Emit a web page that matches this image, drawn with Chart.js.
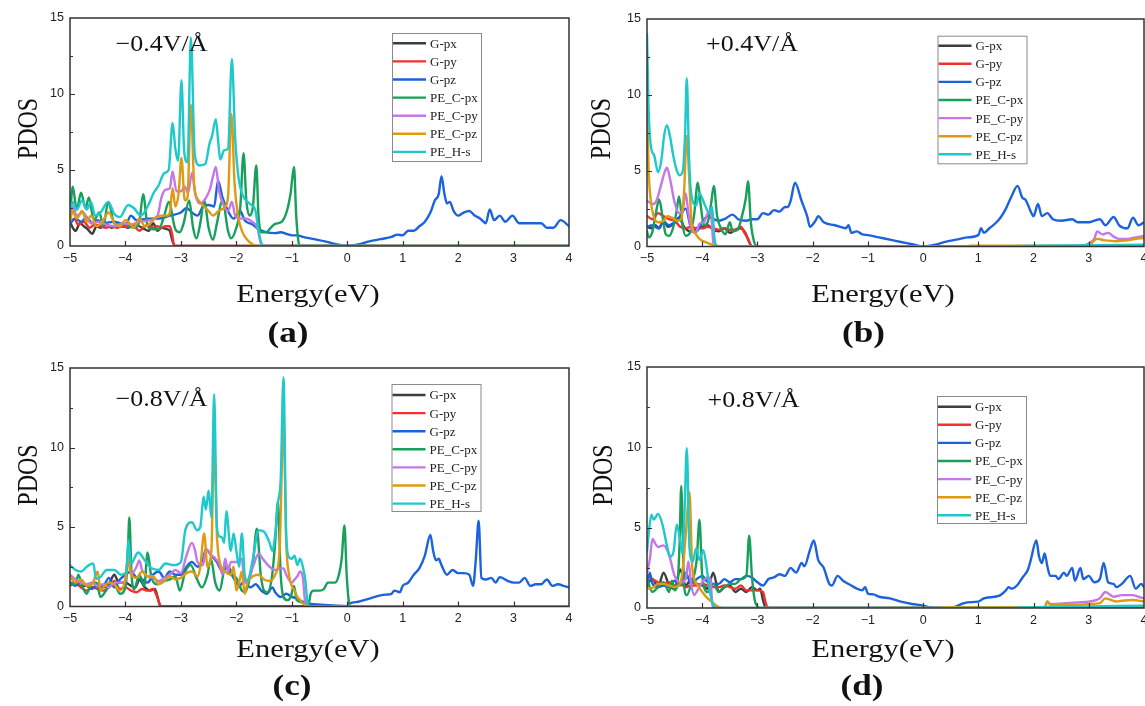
<!DOCTYPE html>
<html>
<head>
<meta charset="utf-8">
<script src="https://cdn.jsdelivr.net/npm/chart.js@4.4.1/dist/chart.umd.min.js"></script>
<style>
  html, body { margin: 0; padding: 0; background: #ffffff; width: 1145px; height: 706px; overflow: hidden; }
  canvas { position: absolute; left: 0; top: 0; }
</style>
</head>
<body>
<canvas id="pa" width="1145" height="706"></canvas>
<canvas id="pb" width="1145" height="706"></canvas>
<canvas id="pc" width="1145" height="706"></canvas>
<canvas id="pd" width="1145" height="706"></canvas>
<script>
// ---- labels ----
const seriesNames = ['G-px', 'G-py', 'G-pz', 'PE_C-px', 'PE_C-py', 'PE_C-pz', 'PE_H-s'];
const fieldLabels = ['\u22120.4V/\u00C5', '+0.4V/\u00C5', '\u22120.8V/\u00C5', '+0.8V/\u00C5'];
const panelTags = ['(a)', '(b)', '(c)', '(d)'];
const xTitle = 'Energy(eV)';
const yTitle = 'PDOS';
const energyRange = [-5, 4];
const pdosRange = [0, 15];

// ---- (a) field -0.4 V/A : [energy, PDOS] ----
const a_Gpx = [[-5,1.6],[-4.95,1.2],[-4.9,1.0],[-4.82,1.5],[-4.75,1.3],[-4.68,1.1],[-4.6,0.8],[-4.52,1.3],[-4.45,1.2],[-4.35,1.4],[-4.25,1.2],[-4.15,1.3],[-4.05,1.3],[-3.95,1.2],[-3.85,1.4],[-3.75,1.3],[-3.65,1.1],[-3.58,1.0],[-3.5,1.5],[-3.42,1.0],[-3.35,1.2],[-3.25,1.1],[-3.2,1.0],[-3.15,0.3],[-3.1,0],[4,0]];
const a_Gpy = [[-5,1.5],[-4.92,1.8],[-4.85,1.4],[-4.75,1.6],[-4.65,1.2],[-4.55,1.4],[-4.45,1.3],[-4.35,1.2],[-4.25,1.3],[-4.15,1.2],[-4.05,1.3],[-3.95,1.25],[-3.85,1.3],[-3.75,1.0],[-3.68,1.2],[-3.6,1.4],[-3.5,1.2],[-3.42,1.3],[-3.35,1.2],[-3.28,1.3],[-3.2,1.3],[-3.16,0.8],[-3.12,0],[4,0]];
const a_Gpz = [[-5,1.5],[-4.9,1.8],[-4.8,1.6],[-4.7,1.9],[-4.6,1.5],[-4.5,1.7],[-4.4,1.5],[-4.2,1.6],[-4.0,1.4],[-3.9,2.0],[-3.8,1.7],[-3.6,1.8],[-3.4,1.8],[-3.2,2.0],[-3.0,2.2],[-2.9,2.5],[-2.8,2.2],[-2.7,2.0],[-2.6,2.6],[-2.5,2.7],[-2.4,2.6],[-2.33,4.3],[-2.25,3.2],[-2.15,2.3],[-2.05,1.8],[-1.93,2.3],[-1.85,1.7],[-1.7,1.4],[-1.6,1.1],[-1.45,0.9],[-1.3,0.85],[-1.2,0.9],[-1.1,0.8],[-1.0,0.7],[-0.9,0.7],[-0.8,0.6],[-0.6,0.45],[-0.4,0.3],[-0.2,0.12],[0,0],[0.1,0.03],[0.2,0.1],[0.4,0.3],[0.6,0.45],[0.8,0.6],[0.9,0.75],[1.0,0.7],[1.1,1.0],[1.2,1.0],[1.3,1.3],[1.4,1.6],[1.5,2.2],[1.58,3.0],[1.65,3.4],[1.7,4.6],[1.75,3.5],[1.8,2.8],[1.85,2.9],[1.92,2.3],[2.0,2.0],[2.1,2.2],[2.2,2.3],[2.3,2.0],[2.4,1.8],[2.5,1.5],[2.57,2.4],[2.65,1.7],[2.75,2.0],[2.85,1.6],[2.98,2.0],[3.1,1.5],[3.3,1.5],[3.5,1.5],[3.6,1.2],[3.72,1.2],[3.85,1.7],[4.0,1.3]];
const a_Cpx = [[-5,2.0],[-4.95,3.9],[-4.88,2.4],[-4.8,3.5],[-4.72,2.5],[-4.66,3.2],[-4.57,1.7],[-4.47,2.2],[-4.4,1.3],[-4.31,2.9],[-4.2,1.5],[-4.1,1.4],[-4.0,1.4],[-3.85,1.2],[-3.75,1.6],[-3.68,3.4],[-3.6,1.3],[-3.5,1.1],[-3.4,1.1],[-3.3,2.0],[-3.22,2.9],[-3.1,1.1],[-3.02,0.9],[-2.95,1.5],[-2.85,3.0],[-2.78,1.2],[-2.72,0.5],[-2.65,1.5],[-2.58,3.0],[-2.5,1.2],[-2.42,0.4],[-2.35,1.5],[-2.25,3.0],[-2.15,1.0],[-2.1,0.5],[-2.0,1.2],[-1.93,2.5],[-1.87,6.1],[-1.82,3.0],[-1.76,2.0],[-1.7,2.6],[-1.64,5.3],[-1.6,2.0],[-1.55,0.9],[-1.46,0.9],[-1.38,1.2],[-1.3,1.45],[-1.18,1.6],[-1.08,2.4],[-1.02,3.5],[-0.96,5.2],[-0.92,2.0],[-0.88,0.3],[-0.85,0],[4,0]];
const a_Cpy = [[-5,2.0],[-4.95,2.6],[-4.88,2.0],[-4.77,2.2],[-4.62,1.5],[-4.48,1.6],[-4.35,1.4],[-4.2,1.3],[-4.05,1.5],[-3.9,1.4],[-3.75,1.6],[-3.55,1.7],[-3.42,2.0],[-3.35,3.2],[-3.28,3.7],[-3.2,3.8],[-3.15,4.9],[-3.08,3.6],[-3.0,3.6],[-2.93,3.9],[-2.87,3.5],[-2.8,4.8],[-2.74,3.4],[-2.66,2.8],[-2.56,3.1],[-2.47,3.8],[-2.42,4.6],[-2.37,5.2],[-2.31,3.6],[-2.22,2.6],[-2.15,2.3],[-2.08,2.9],[-2.02,2.0],[-1.92,1.8],[-1.82,1.8],[-1.72,1.6],[-1.62,1.2],[-1.56,0.2],[-1.52,0],[4,0]];
const a_Cpz = [[-5,1.6],[-4.95,2.3],[-4.88,1.8],[-4.78,2.3],[-4.7,1.6],[-4.62,2.0],[-4.52,1.3],[-4.42,1.6],[-4.3,2.2],[-4.2,1.5],[-4.1,1.3],[-4.0,1.7],[-3.9,1.4],[-3.85,1.2],[-3.75,1.8],[-3.65,1.3],[-3.55,1.5],[-3.45,1.9],[-3.35,2.0],[-3.25,2.0],[-3.2,2.2],[-3.15,3.8],[-3.1,2.6],[-3.04,3.5],[-2.99,5.8],[-2.93,3.0],[-2.88,3.2],[-2.82,9.3],[-2.76,4.0],[-2.68,3.0],[-2.58,2.6],[-2.5,2.3],[-2.42,2.0],[-2.32,2.3],[-2.22,2.5],[-2.15,3.2],[-2.09,8.7],[-2.03,4.0],[-1.97,2.0],[-1.9,1.0],[-1.8,0.4],[-1.7,0.1],[-1.6,0],[4,0]];
const a_Hs = [[-5,2.3],[-4.95,2.9],[-4.88,2.4],[-4.78,3.0],[-4.7,2.4],[-4.62,2.9],[-4.55,2.0],[-4.45,2.2],[-4.31,2.9],[-4.2,2.1],[-4.1,1.9],[-3.95,2.7],[-3.85,2.5],[-3.72,2.0],[-3.6,2.6],[-3.49,3.5],[-3.4,4.0],[-3.3,4.8],[-3.22,5.0],[-3.15,8.1],[-3.1,6.4],[-3.05,5.6],[-2.99,10.9],[-2.94,6.2],[-2.88,5.5],[-2.82,13.7],[-2.75,6.0],[-2.66,5.3],[-2.56,5.4],[-2.48,6.8],[-2.44,7.2],[-2.37,8.35],[-2.33,7.0],[-2.29,5.7],[-2.22,6.3],[-2.15,6.4],[-2.08,12.3],[-2.02,7.0],[-1.96,4.5],[-1.88,3.3],[-1.8,2.9],[-1.73,2.7],[-1.66,2.4],[-1.6,1.0],[-1.55,0.2],[-1.5,0],[4,0]];

// ---- (b) field +0.4 V/A ----
const b_Gpx = [[-5,1.3],[-4.92,1.2],[-4.85,1.4],[-4.78,1.2],[-4.7,1.7],[-4.62,1.3],[-4.52,1.5],[-4.42,1.9],[-4.33,1.3],[-4.22,1.0],[-4.12,1.2],[-4.0,1.3],[-3.9,1.4],[-3.8,1.1],[-3.7,1.0],[-3.6,1.2],[-3.5,0.9],[-3.4,1.1],[-3.3,1.2],[-3.22,0.9],[-3.15,0.3],[-3.1,0],[4,0]];
const b_Gpy = [[-5,2.0],[-4.9,1.8],[-4.8,2.2],[-4.7,2.0],[-4.6,1.8],[-4.5,1.7],[-4.4,1.3],[-4.3,1.2],[-4.2,1.3],[-4.1,1.2],[-4.0,1.2],[-3.9,1.3],[-3.8,1.2],[-3.7,1.1],[-3.6,1.2],[-3.5,1.1],[-3.4,1.1],[-3.3,1.3],[-3.25,1.0],[-3.17,0.5],[-3.1,0],[4,0]];
const b_Gpz = [[-5,1.3],[-4.9,1.4],[-4.8,1.2],[-4.7,1.6],[-4.6,1.4],[-4.5,1.6],[-4.42,1.9],[-4.3,2.5],[-4.2,1.2],[-4.1,1.0],[-4.0,1.6],[-3.9,2.0],[-3.8,1.8],[-3.7,1.7],[-3.6,1.8],[-3.45,2.1],[-3.35,1.8],[-3.2,1.7],[-3.1,1.8],[-3.0,1.8],[-2.9,2.2],[-2.8,2.1],[-2.7,2.4],[-2.6,2.3],[-2.5,2.6],[-2.45,2.6],[-2.4,3.0],[-2.32,4.2],[-2.2,3.0],[-2.1,2.0],[-2.05,1.3],[-1.95,1.7],[-1.9,2.0],[-1.8,1.6],[-1.6,1.4],[-1.5,1.3],[-1.4,1.2],[-1.35,1.4],[-1.3,0.9],[-1.2,1.0],[-1.1,0.8],[-1.0,0.75],[-0.8,0.6],[-0.6,0.45],[-0.4,0.3],[-0.2,0.15],[0,0],[0.2,0.1],[0.4,0.3],[0.6,0.45],[0.8,0.6],[1.0,0.75],[1.05,1.2],[1.1,0.9],[1.2,1.2],[1.3,1.5],[1.4,1.9],[1.5,2.5],[1.6,3.3],[1.71,4.0],[1.8,3.2],[1.85,3.1],[1.95,2.3],[2.0,2.0],[2.08,2.8],[2.15,2.0],[2.25,2.2],[2.35,1.8],[2.5,1.7],[2.7,1.8],[2.8,1.6],[3.0,1.6],[3.1,1.7],[3.2,1.8],[3.3,1.4],[3.45,1.95],[3.55,1.4],[3.7,1.2],[3.8,1.9],[3.9,1.4],[4.0,1.6]];
const b_Cpx = [[-5,1.0],[-4.97,0.6],[-4.9,1.0],[-4.84,2.2],[-4.78,3.1],[-4.72,2.0],[-4.66,0.8],[-4.6,0.7],[-4.53,1.2],[-4.47,2.2],[-4.42,3.3],[-4.36,1.5],[-4.3,0.7],[-4.22,0.9],[-4.15,2.0],[-4.08,4.2],[-4.02,2.5],[-3.97,1.4],[-3.9,1.6],[-3.84,2.8],[-3.79,4.0],[-3.73,2.0],[-3.66,1.2],[-3.58,0.8],[-3.5,1.6],[-3.45,1.0],[-3.36,1.1],[-3.28,2.0],[-3.21,3.2],[-3.17,4.3],[-3.12,1.6],[-3.06,0.3],[-3.0,0],[4,0]];
const b_Cpy = [[-5,3.0],[-4.95,2.9],[-4.88,2.8],[-4.82,3.1],[-4.75,4.0],[-4.68,4.9],[-4.64,5.2],[-4.58,4.4],[-4.5,2.9],[-4.42,2.2],[-4.35,2.5],[-4.3,3.5],[-4.25,2.2],[-4.2,1.2],[-4.15,0.9],[-4.1,1.0],[-4.05,1.5],[-3.97,1.6],[-3.9,2.2],[-3.85,2.4],[-3.8,0.3],[-3.77,0],[2.8,0],[3.0,0.2],[3.1,0.5],[3.15,1.0],[3.25,0.8],[3.35,0.9],[3.45,0.65],[3.55,0.5],[3.7,0.5],[3.85,0.6],[4.0,0.7]];
const b_Cpz = [[-5,9.5],[-4.97,5.0],[-4.93,3.0],[-4.88,2.0],[-4.8,1.6],[-4.7,1.7],[-4.63,2.0],[-4.55,1.9],[-4.45,1.7],[-4.38,1.8],[-4.33,3.5],[-4.28,7.3],[-4.23,4.0],[-4.19,1.5],[-4.13,0.9],[-4.05,0.5],[-3.95,0.3],[-3.8,0.1],[-3.65,0],[0.8,0],[0.85,0.06],[2.8,0.06],[3.0,0.1],[3.15,0.5],[3.3,0.4],[3.5,0.35],[3.7,0.4],[3.85,0.5],[4.0,0.55]];
const b_Hs = [[-5,14.0],[-4.97,9.0],[-4.93,6.6],[-4.87,6.0],[-4.8,4.9],[-4.74,5.7],[-4.69,7.3],[-4.64,8.0],[-4.58,7.2],[-4.53,6.1],[-4.46,5.0],[-4.41,4.7],[-4.35,5.0],[-4.31,7.5],[-4.28,11.1],[-4.24,6.0],[-4.2,3.5],[-4.11,2.7],[-4.05,3.5],[-3.96,2.8],[-3.87,2.2],[-3.82,2.6],[-3.78,0.6],[-3.73,0],[1.0,0],[2.0,0.05],[3.0,0.08],[4.0,0.12]];

// ---- (c) field -0.8 V/A ----
const c_Gpx = [[-5,1.5],[-4.9,1.4],[-4.8,1.3],[-4.7,1.3],[-4.6,1.2],[-4.5,1.3],[-4.4,1.2],[-4.3,1.4],[-4.2,2.0],[-4.12,1.5],[-4.0,1.5],[-3.9,1.3],[-3.82,1.2],[-3.75,1.7],[-3.65,1.2],[-3.55,1.0],[-3.47,1.1],[-3.42,0.6],[-3.37,0],[4,0]];
const c_Gpy = [[-5,1.3],[-4.9,1.5],[-4.8,1.2],[-4.7,1.0],[-4.6,1.2],[-4.5,1.1],[-4.4,1.0],[-4.3,1.2],[-4.2,1.6],[-4.1,1.1],[-4.0,1.2],[-3.9,1.0],[-3.8,0.9],[-3.7,1.1],[-3.6,1.0],[-3.5,1.1],[-3.45,0.8],[-3.4,0.3],[-3.35,0],[4,0]];
const c_Gpz = [[-5,1.5],[-4.9,1.3],[-4.8,1.6],[-4.7,1.3],[-4.6,1.1],[-4.5,1.4],[-4.4,1.3],[-4.3,1.8],[-4.2,1.2],[-4.1,1.7],[-4.0,2.0],[-3.9,2.2],[-3.8,1.8],[-3.7,1.7],[-3.6,1.5],[-3.5,2.0],[-3.4,2.2],[-3.3,1.8],[-3.2,2.2],[-3.1,2.0],[-3.0,2.0],[-2.9,2.5],[-2.8,2.8],[-2.7,2.5],[-2.6,3.0],[-2.55,3.6],[-2.45,3.2],[-2.35,2.8],[-2.25,2.2],[-2.15,2.5],[-2.05,1.8],[-1.95,1.3],[-1.85,1.6],[-1.75,1.2],[-1.65,1.4],[-1.55,1.0],[-1.45,0.8],[-1.35,1.2],[-1.3,0.9],[-1.2,0.6],[-1.1,0.8],[-1.0,0.6],[-0.9,0.5],[-0.8,0.3],[-0.7,0.2],[-0.6,0.15],[-0.4,0.1],[-0.2,0.05],[0,0.02],[0.05,0.2],[0.2,0.3],[0.4,0.5],[0.6,0.7],[0.7,0.75],[0.8,0.8],[0.85,1.0],[0.95,0.9],[1.0,1.3],[1.1,1.5],[1.2,2.0],[1.3,2.4],[1.4,3.2],[1.5,4.5],[1.55,3.5],[1.6,2.9],[1.65,3.0],[1.7,2.6],[1.8,2.0],[1.9,2.3],[2.0,2.1],[2.1,2.1],[2.2,2.0],[2.27,1.3],[2.32,3.0],[2.37,5.4],[2.42,1.8],[2.5,1.7],[2.6,1.8],[2.68,1.5],[2.75,1.85],[2.9,1.6],[3.0,1.5],[3.1,1.5],[3.2,1.8],[3.3,1.3],[3.4,1.4],[3.5,1.4],[3.6,1.7],[3.7,1.3],[3.8,1.4],[3.9,1.3],[4.0,1.2]];
const c_Cpx = [[-5,1.5],[-4.9,1.4],[-4.85,2.0],[-4.78,1.3],[-4.7,0.8],[-4.6,1.5],[-4.52,1.5],[-4.45,0.6],[-4.35,1.0],[-4.28,1.4],[-4.18,1.3],[-4.1,0.8],[-4.0,1.2],[-3.96,3.0],[-3.93,5.6],[-3.89,2.0],[-3.84,1.1],[-3.75,2.0],[-3.66,1.3],[-3.6,3.4],[-3.53,1.8],[-3.42,1.4],[-3.3,1.6],[-3.2,1.7],[-3.1,1.9],[-3.02,1.0],[-2.92,2.2],[-2.82,2.6],[-2.72,1.8],[-2.62,1.2],[-2.52,2.0],[-2.46,3.0],[-2.38,1.5],[-2.3,1.0],[-2.2,2.5],[-2.1,2.0],[-2.0,1.8],[-1.9,1.0],[-1.84,0.9],[-1.77,1.6],[-1.7,2.8],[-1.63,4.9],[-1.56,2.0],[-1.5,1.0],[-1.44,0.9],[-1.36,1.8],[-1.3,4.0],[-1.25,6.6],[-1.2,2.0],[-1.15,0.6],[-1.08,0.4],[-1.02,0.6],[-0.96,1.3],[-0.91,0.4],[-0.85,0.3],[-0.78,0.2],[-0.7,0.1],[-0.66,0.8],[-0.6,1.0],[-0.5,1.0],[-0.42,1.1],[-0.35,1.5],[-0.22,1.5],[-0.15,2.0],[-0.1,3.0],[-0.05,5.1],[-0.01,2.0],[0.03,0.3],[0.06,0],[4,0]];
const c_Cpy = [[-5,2.0],[-4.9,1.7],[-4.8,1.5],[-4.7,1.4],[-4.6,1.5],[-4.5,1.3],[-4.4,1.4],[-4.3,1.2],[-4.2,1.5],[-4.1,1.5],[-4.0,1.6],[-3.95,3.3],[-3.9,2.0],[-3.8,2.5],[-3.75,2.9],[-3.7,2.3],[-3.6,1.9],[-3.5,1.8],[-3.4,1.6],[-3.3,1.8],[-3.2,2.0],[-3.1,2.3],[-3.0,2.1],[-2.9,3.2],[-2.8,4.0],[-2.75,3.6],[-2.7,2.8],[-2.6,2.6],[-2.55,3.6],[-2.45,3.2],[-2.4,3.1],[-2.3,2.6],[-2.25,2.0],[-2.2,3.0],[-2.15,2.2],[-2.1,2.8],[-2.0,2.8],[-1.9,3.0],[-1.85,1.5],[-1.8,1.6],[-1.7,2.5],[-1.6,3.3],[-1.5,2.9],[-1.4,2.5],[-1.3,2.3],[-1.2,2.4],[-1.15,2.4],[-1.1,2.0],[-1.0,1.5],[-0.95,1.7],[-0.9,1.9],[-0.85,2.2],[-0.8,1.8],[-0.76,0.3],[-0.72,0],[4,0]];
const c_Cpz = [[-5,1.9],[-4.9,1.5],[-4.8,1.7],[-4.7,1.3],[-4.6,1.4],[-4.5,2.2],[-4.45,1.0],[-4.4,1.2],[-4.3,1.5],[-4.2,1.4],[-4.1,1.0],[-4.0,1.8],[-3.95,3.4],[-3.9,2.0],[-3.8,1.8],[-3.7,2.2],[-3.6,1.9],[-3.5,1.9],[-3.4,1.4],[-3.3,1.6],[-3.2,1.9],[-3.1,1.7],[-3.0,1.8],[-2.9,2.1],[-2.8,2.2],[-2.7,1.9],[-2.65,2.5],[-2.58,4.6],[-2.52,2.5],[-2.45,3.5],[-2.4,10.4],[-2.35,4.5],[-2.3,2.8],[-2.2,2.2],[-2.1,2.0],[-2.05,2.5],[-2.0,1.0],[-1.95,1.5],[-1.9,2.2],[-1.85,0.8],[-1.8,1.5],[-1.7,1.9],[-1.6,2.0],[-1.5,1.7],[-1.4,1.6],[-1.3,2.0],[-1.22,3.5],[-1.15,11.6],[-1.1,4.0],[-1.05,2.0],[-1.0,1.3],[-0.95,1.0],[-0.9,0.6],[-0.85,0.4],[-0.8,0.2],[-0.7,0],[4,0]];
const c_Hs = [[-5,2.6],[-4.9,2.3],[-4.8,2.2],[-4.7,2.5],[-4.58,2.7],[-4.53,1.75],[-4.45,1.85],[-4.34,2.3],[-4.2,2.3],[-4.08,2.0],[-3.98,2.2],[-3.95,4.2],[-3.9,2.7],[-3.77,3.4],[-3.65,2.9],[-3.53,2.4],[-3.4,2.3],[-3.28,2.7],[-3.13,2.6],[-3.0,2.8],[-2.92,4.8],[-2.8,5.3],[-2.71,4.8],[-2.65,5.0],[-2.59,6.9],[-2.55,6.1],[-2.5,7.3],[-2.45,5.6],[-2.4,13.35],[-2.35,5.0],[-2.3,4.4],[-2.25,4.3],[-2.22,4.0],[-2.18,6.0],[-2.1,3.5],[-2.05,4.6],[-2.0,3.5],[-1.95,2.5],[-1.9,4.6],[-1.85,2.0],[-1.8,1.6],[-1.7,3.0],[-1.6,4.8],[-1.5,4.7],[-1.4,4.0],[-1.35,3.5],[-1.3,4.5],[-1.25,6.5],[-1.2,8.0],[-1.15,14.4],[-1.1,4.5],[-1.05,3.1],[-1.0,3.0],[-0.95,3.2],[-0.9,2.6],[-0.85,3.0],[-0.8,2.5],[-0.75,1.5],[-0.72,0.3],[-0.68,0],[4,0]];

// ---- (d) field +0.8 V/A ----
const d_Gpx = [[-5,1.5],[-4.9,1.8],[-4.8,1.3],[-4.7,2.2],[-4.6,1.4],[-4.5,1.2],[-4.4,2.4],[-4.3,1.4],[-4.2,1.8],[-4.1,1.5],[-4.0,1.4],[-3.9,1.2],[-3.8,2.2],[-3.7,1.0],[-3.6,1.3],[-3.5,1.4],[-3.4,1.0],[-3.3,1.2],[-3.2,1.0],[-3.1,1.3],[-3.0,1.1],[-2.95,1.2],[-2.9,0.5],[-2.85,0],[4,0]];
const d_Gpy = [[-5,2.0],[-4.9,1.8],[-4.8,1.6],[-4.7,1.5],[-4.6,1.6],[-4.5,1.4],[-4.4,1.5],[-4.3,1.3],[-4.2,1.4],[-4.1,1.4],[-4.0,1.5],[-3.9,1.4],[-3.8,1.3],[-3.7,1.3],[-3.6,1.4],[-3.5,1.3],[-3.4,1.2],[-3.3,1.4],[-3.2,1.1],[-3.1,1.1],[-3.0,1.1],[-2.9,1.0],[-2.85,0.3],[-2.8,0],[4,0]];
const d_Gpz = [[-5,1.3],[-4.95,2.2],[-4.9,1.5],[-4.8,1.3],[-4.7,1.4],[-4.6,1.3],[-4.5,1.7],[-4.4,1.4],[-4.3,2.2],[-4.2,1.5],[-4.1,1.8],[-4.0,2.0],[-3.9,1.6],[-3.8,1.5],[-3.7,1.5],[-3.6,1.8],[-3.5,1.6],[-3.4,1.8],[-3.3,1.8],[-3.2,2.0],[-3.1,1.9],[-3.0,1.6],[-2.9,1.4],[-2.8,1.8],[-2.7,1.9],[-2.6,2.1],[-2.5,2.0],[-2.4,2.5],[-2.3,2.2],[-2.2,2.8],[-2.15,2.6],[-2.05,3.6],[-1.98,4.2],[-1.9,3.0],[-1.8,2.5],[-1.7,1.5],[-1.65,1.4],[-1.55,2.0],[-1.45,1.7],[-1.3,1.4],[-1.2,1.2],[-1.1,1.1],[-1.05,1.3],[-1.0,0.9],[-0.9,0.85],[-0.8,0.7],[-0.6,0.6],[-0.4,0.4],[-0.2,0.25],[0,0.15],[0.1,0.05],[0.2,0],[0.5,0],[0.6,0.1],[0.7,0.25],[0.8,0.35],[1.0,0.4],[1.1,0.6],[1.3,0.7],[1.4,0.8],[1.5,1.1],[1.55,1.3],[1.6,1.2],[1.7,1.4],[1.8,1.9],[1.9,2.4],[1.95,3.0],[2.05,4.2],[2.1,3.2],[2.15,2.8],[2.2,3.4],[2.25,2.6],[2.3,2.0],[2.4,2.0],[2.45,1.8],[2.55,2.2],[2.6,2.0],[2.7,2.5],[2.75,1.7],[2.85,2.5],[2.9,1.8],[3.0,2.0],[3.1,1.6],[3.2,1.8],[3.27,2.8],[3.35,1.6],[3.45,1.5],[3.5,1.3],[3.6,1.5],[3.75,2.0],[3.85,1.2],[3.95,1.5],[4.0,1.3]];
const d_Cpx = [[-5,1.8],[-4.9,1.0],[-4.8,1.3],[-4.7,1.6],[-4.6,1.0],[-4.55,1.7],[-4.5,1.1],[-4.45,1.4],[-4.41,4.0],[-4.38,7.6],[-4.33,1.5],[-4.28,0.8],[-4.2,1.5],[-4.1,3.0],[-4.05,5.5],[-4.0,2.0],[-3.9,1.0],[-3.8,1.5],[-3.7,1.0],[-3.6,1.3],[-3.5,1.5],[-3.4,1.5],[-3.3,1.8],[-3.2,2.0],[-3.15,4.5],[-3.1,2.0],[-3.05,0.5],[-3.0,0.1],[-2.95,0],[4,0]];
const d_Cpy = [[-5,2.2],[-4.95,3.0],[-4.9,4.3],[-4.85,4.0],[-4.8,3.8],[-4.7,3.9],[-4.6,3.3],[-4.5,2.0],[-4.4,1.6],[-4.3,1.8],[-4.25,2.9],[-4.2,1.5],[-4.15,0.8],[-4.1,1.0],[-4.0,1.6],[-3.9,1.9],[-3.85,1.8],[-3.82,0.3],[-3.79,0],[2.2,0],[2.25,0.4],[2.3,0.25],[2.6,0.3],[2.8,0.35],[3.0,0.4],[3.2,0.6],[3.3,1.0],[3.45,0.7],[3.6,0.8],[3.8,0.8],[3.9,0.7],[4.0,0.6]];
const d_Cpz = [[-5,1.2],[-4.9,1.25],[-4.8,1.5],[-4.7,1.5],[-4.6,1.4],[-4.5,1.3],[-4.4,1.5],[-4.35,2.5],[-4.3,4.5],[-4.23,7.2],[-4.18,2.5],[-4.1,1.5],[-4.0,1.0],[-3.9,0.6],[-3.8,0.3],[-3.7,0.05],[-3.6,0],[0.3,0],[0.35,0.05],[2.2,0.05],[2.25,0.4],[2.3,0.2],[2.6,0.2],[2.8,0.2],[3.0,0.25],[3.2,0.3],[3.3,0.6],[3.5,0.4],[3.6,0.45],[3.8,0.5],[4.0,0.4]];
const d_Hs = [[-5,3.5],[-4.97,4.6],[-4.92,5.8],[-4.88,5.5],[-4.8,5.85],[-4.72,5.2],[-4.64,3.9],[-4.58,3.2],[-4.52,3.5],[-4.46,5.2],[-4.4,4.2],[-4.36,3.4],[-4.32,6.0],[-4.28,9.95],[-4.23,3.7],[-4.17,2.9],[-4.11,3.7],[-4.05,3.0],[-3.98,3.6],[-3.92,2.5],[-3.86,1.0],[-3.8,0.2],[-3.75,0],[1.5,0],[2.0,0.05],[3.0,0.1],[4.0,0.15]];

// series grouped per panel (same order as seriesNames)
const panelSeries = [
  [a_Gpx, a_Gpy, a_Gpz, a_Cpx, a_Cpy, a_Cpz, a_Hs],
  [b_Gpx, b_Gpy, b_Gpz, b_Cpx, b_Cpy, b_Cpz, b_Hs],
  [c_Gpx, c_Gpy, c_Gpz, c_Cpx, c_Cpy, c_Cpz, c_Hs],
  [d_Gpx, d_Gpy, d_Gpz, d_Cpx, d_Cpy, d_Cpz, d_Hs]
];

// ---- styling ----
const lineColors = ['#3d3d3d', '#f2302e', '#1c62dc', '#179f5b', '#c477e8', '#e09a12', '#1fc8cb'];
const serif = '"Liberation Serif", "Times New Roman", serif';
const sans = '"Liberation Sans", Arial, sans-serif';

// page positions of each panel: plot frame, legend box, and the labels around it
const panelLayout = [
  { area: {l: 70,  t: 18,  r: 569,  b: 246},   legend: {x: 392,   y: 33,   w: 89, h: 128, row0: 10.3}, field: {x: 115.5, y: 50.7},  xt: {x: 308, y: 301.7}, yt: {x: 27,  y: 128.5}, tag: {x: 288,   y: 334} },
  { area: {l: 647, t: 19,  r: 1144, b: 246.5}, legend: {x: 937.5, y: 35.7, w: 89, h: 127.6, row0: 10}, field: {x: 706,   y: 50.7},  xt: {x: 883, y: 301.7}, yt: {x: 600, y: 128.5}, tag: {x: 863.5, y: 334} },
  { area: {l: 70,  t: 368, r: 569,  b: 606.5}, legend: {x: 391.5, y: 384,  w: 89, h: 127,  row0: 11},  field: {x: 115.5, y: 405.7}, xt: {x: 308, y: 656.7}, yt: {x: 27,  y: 475},   tag: {x: 292,   y: 687} },
  { area: {l: 647, t: 367, r: 1144, b: 608},   legend: {x: 937,   y: 396,  w: 89, h: 127,  row0: 10.7}, field: {x: 707.5, y: 406.7}, xt: {x: 883, y: 656.7}, yt: {x: 602, y: 475},   tag: {x: 862,   y: 687} }
];

const Y_AXIS_W = 30, X_AXIS_H = 27, PAGE_W = 1145, PAGE_H = 706;
const LINE_W = 2.4;

// frame, inward ticks, legend box and the text around each panel
const panelDecor = {
  id: 'panelDecor',
  afterDatasetsDraw(chart, args, opts) {
    const ctx = chart.ctx;
    const ca = chart.chartArea;
    const xs = chart.scales.x, ys = chart.scales.y;
    const L = opts.layout;
    ctx.save();
    // frame
    ctx.strokeStyle = '#333';
    ctx.lineWidth = 1.5;
    ctx.strokeRect(ca.left, ca.top, ca.right - ca.left, ca.bottom - ca.top);
    // inward ticks
    ctx.lineWidth = 1.2;
    ctx.beginPath();
    for (let v = energyRange[0] + 1; v < energyRange[1]; v++) {
      const px = Math.round(xs.getPixelForValue(v)) + 0.5;
      ctx.moveTo(px, ca.bottom);
      ctx.lineTo(px, ca.bottom - 5);
    }
    for (let v = pdosRange[0] + 2.5; v < pdosRange[1]; v += 2.5) {
      const py = Math.round(ys.getPixelForValue(v)) + 0.5;
      const len = (v % 5 === 0) ? 5 : 3;
      ctx.moveTo(ca.left, py);
      ctx.lineTo(ca.left + len, py);
    }
    ctx.stroke();

    // legend
    const lg = L.legend;
    ctx.fillStyle = '#ffffff';
    ctx.fillRect(lg.x, lg.y, lg.w, lg.h);
    ctx.strokeStyle = '#8a8a8a';
    ctx.lineWidth = 1;
    ctx.strokeRect(lg.x + 0.5, lg.y + 0.5, lg.w, lg.h);
    ctx.font = '13px ' + serif;
    ctx.textBaseline = 'middle';
    ctx.textAlign = 'left';
    chart.data.datasets.forEach((ds, i) => {
      const ry = lg.y + lg.row0 + i * 18.1;
      ctx.strokeStyle = ds.borderColor;
      ctx.lineWidth = LINE_W;
      ctx.beginPath();
      ctx.moveTo(lg.x + 1, ry);
      ctx.lineTo(lg.x + 34, ry);
      ctx.stroke();
      ctx.fillStyle = '#222';
      ctx.fillText(ds.label, lg.x + 38, ry + 1);
    });

    ctx.fillStyle = '#111';
    ctx.textBaseline = 'alphabetic';
    // field strength label
    ctx.save();
    ctx.translate(L.field.x, L.field.y);
    ctx.scale(1.13, 1);
    ctx.font = '23px ' + serif;
    ctx.textAlign = 'left';
    ctx.fillText(opts.field, 0, 0);
    ctx.restore();
    // x title
    ctx.save();
    ctx.translate(L.xt.x, L.xt.y);
    ctx.scale(1.22, 1);
    ctx.font = '25px ' + serif;
    ctx.textAlign = 'center';
    ctx.fillText(xTitle, 0, 0);
    ctx.restore();
    // y title
    ctx.save();
    ctx.translate(L.yt.x, L.yt.y);
    ctx.scale(1.25, 1);
    ctx.rotate(-Math.PI / 2);
    ctx.font = '24px ' + serif;
    ctx.textAlign = 'center';
    ctx.fillText(yTitle, 0, 24 * 0.33);
    ctx.restore();
    // panel tag
    ctx.save();
    ctx.translate(L.tag.x, L.tag.y);
    ctx.scale(1.17, 1);
    ctx.font = 'bold 30px ' + serif;
    ctx.textAlign = 'center';
    ctx.fillText(opts.tag, 0, 30 * 0.26);
    ctx.restore();
    ctx.restore();
  }
};

const signed = v => (v < 0 ? '\u2212' + Math.abs(v) : String(v));

function buildPanel(canvasId, idx) {
  const L = panelLayout[idx];
  const a = L.area;
  const datasets = panelSeries[idx].map((pts, i) => ({
    label: seriesNames[i],
    data: pts.map(p => ({x: p[0], y: p[1]})),
    borderColor: lineColors[i],
    backgroundColor: lineColors[i],
    borderWidth: LINE_W,
    borderJoinStyle: 'round',
    borderCapStyle: 'round',
    pointRadius: 0,
    cubicInterpolationMode: 'monotone',
    fill: false,
    order: seriesNames.length - 1 - i
  }));
  return new Chart(document.getElementById(canvasId), {
    type: 'line',
    data: { datasets },
    options: {
      responsive: false,
      animation: false,
      events: [],
      layout: { padding: { left: a.l - Y_AXIS_W, top: a.t, right: PAGE_W - a.r, bottom: PAGE_H - a.b - X_AXIS_H } },
      plugins: {
        legend: { display: false },
        tooltip: { enabled: false },
        panelDecor: { layout: L, field: fieldLabels[idx], tag: panelTags[idx] }
      },
      scales: {
        x: {
          type: 'linear', min: energyRange[0], max: energyRange[1],
          grid: { display: false, drawTicks: false },
          border: { display: false },
          ticks: { stepSize: 1, padding: 5, color: '#222', font: { family: sans, size: 12.5 }, callback: signed, maxRotation: 0, autoSkip: false },
          afterFit(s) { s.height = X_AXIS_H; s.paddingLeft = 0; s.paddingRight = 0; }
        },
        y: {
          type: 'linear', min: pdosRange[0], max: pdosRange[1],
          grid: { display: false, drawTicks: false },
          border: { display: false },
          ticks: { stepSize: 5, padding: 6, color: '#222', font: { family: sans, size: 12.5 } },
          afterFit(s) { s.width = Y_AXIS_W; s.paddingTop = 0; s.paddingBottom = 0; }
        }
      }
    },
    plugins: [panelDecor]
  });
}

['pa', 'pb', 'pc', 'pd'].forEach((id, i) => buildPanel(id, i));
</script>
</body>
</html>
